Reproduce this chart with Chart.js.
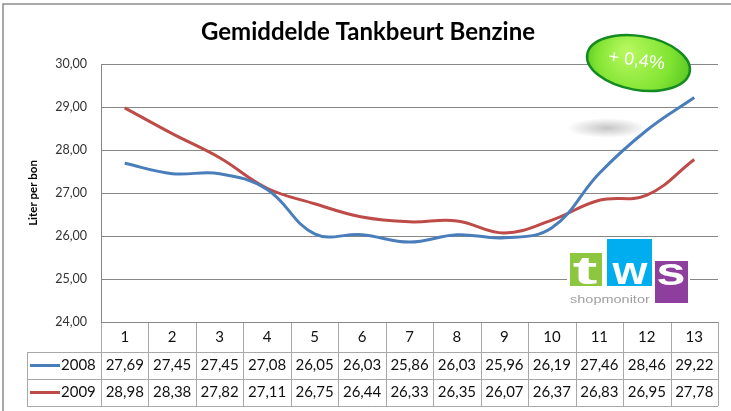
<!DOCTYPE html>
<html>
<head>
<meta charset="utf-8">
<script src="https://cdn.jsdelivr.net/npm/chart.js@4"></script>
<style>
  html, body { margin: 0; padding: 0; background: #fff; }
  #wrap { width: 731px; height: 411px; }
</style>
</head>
<body>
<div id="wrap"><canvas id="myChart" width="731" height="411"></canvas></div>
<script>
// chart data
const weeks = ["1", "2", "3", "4", "5", "6", "7", "8", "9", "10", "11", "12", "13"];
const values2008 = [27.69, 27.45, 27.45, 27.08, 26.05, 26.03, 25.86, 26.03, 25.96, 26.19, 27.46, 28.46, 29.22];
const values2009 = [28.98, 28.38, 27.82, 27.11, 26.75, 26.44, 26.33, 26.35, 26.07, 26.37, 26.83, 26.95, 27.78];
const yMin = 24;
const yMax = 30;
const yStep = 1;
const chartTitle = "Gemiddelde Tankbeurt Benzine";
const yTitle = "Liter per bon";
const badgeText = "+ 0,4%";

const blue = "#4a7ebb";
const red = "#be4b48";
const gridColor = "#878787";
const tableLine = "#a8a8a8";
const font = "Lato, 'Open Sans', sans-serif";

function fmt(v) {
  return v.toFixed(2).replace(".", ",");
}

// white background, frame and title
const backgroundPlugin = {
  id: "background",
  beforeDraw(chart) {
    const c = chart.ctx;
    c.save();
    c.fillStyle = "#fff";
    c.fillRect(0, 0, chart.width, chart.height);
    c.strokeStyle = "#8c8c8c";
    c.lineWidth = 1.5;
    c.beginPath();
    c.moveTo(3, chart.height);
    c.lineTo(3, 4);
    c.lineTo(chart.width, 4);
    c.stroke();
    c.fillStyle = "#000";
    c.font = "bold 24px " + font;
    c.textAlign = "center";
    c.textBaseline = "alphabetic";
    c.fillText(chartTitle, 368, 40);
    c.restore();
  },
};

// draw one letter stretched sideways (logo letters are wide)
function wideLetter(c, ch, cx, base, sx) {
  c.save();
  c.translate(cx, base);
  c.scale(sx, 1);
  c.fillText(ch, 0, 0);
  c.restore();
}

// logo sits on top of the grid but under the lines
const logoPlugin = {
  id: "logo",
  beforeDatasetsDraw(chart) {
    const c = chart.ctx;
    c.save();
    // shadow of the badge
    const g = c.createRadialGradient(0, 0, 0, 0, 0, 1);
    g.addColorStop(0, "rgba(150,150,150,0.55)");
    g.addColorStop(1, "rgba(150,150,150,0)");
    c.translate(607, 128);
    c.scale(40, 10);
    c.fillStyle = g;
    c.beginPath();
    c.arc(0, 0, 1, 0, Math.PI * 2);
    c.fill();
    c.restore();

    c.save();
    c.fillStyle = "#fff";
    c.fillRect(567, 238, 123, 67);
    c.fillStyle = "#8dc63f";
    c.fillRect(570, 253, 32, 33);
    c.fillStyle = "#00aeef";
    c.fillRect(607, 239, 45, 47);
    c.fillStyle = "#8e3f9e";
    c.fillRect(655, 261, 33, 42);
    c.fillStyle = "#fff";
    c.font = "bold 39px Arial, sans-serif";
    c.textAlign = "center";
    c.textBaseline = "alphabetic";
    wideLetter(c, "t", 585, 284, 1.9);
    wideLetter(c, "w", 630, 284, 1.15);
    wideLetter(c, "s", 671, 285, 1.35);
    c.fillStyle = "#a0a0a0";
    c.font = "10px Arial, sans-serif";
    c.textAlign = "left";
    c.save();
    c.translate(570, 303);
    c.scale(1.45, 1);
    c.fillText("shopmonitor", 0, 0);
    c.restore();
    c.restore();
  },
};

// data table under the plot, columns follow the x scale
const tablePlugin = {
  id: "dataTable",
  afterDraw(chart) {
    const c = chart.ctx;
    const x = chart.scales.x;
    const area = chart.chartArea;
    const top = area.bottom;
    const rowY = [top, top + 30, top + 57, top + 84];
    const legendLeft = 27;

    const edges = [area.left];
    for (let i = 0; i < weeks.length - 1; i++) {
      edges.push((x.getPixelForValue(i) + x.getPixelForValue(i + 1)) / 2);
    }
    edges.push(area.right);

    c.save();
    c.strokeStyle = tableLine;
    c.lineWidth = 1;
    c.beginPath();
    edges.forEach((ex) => {
      c.moveTo(Math.round(ex) + 0.5, rowY[0]);
      c.lineTo(Math.round(ex) + 0.5, rowY[3]);
    });
    for (let r = 1; r < rowY.length; r++) {
      c.moveTo(legendLeft, rowY[r] + 0.5);
      c.lineTo(area.right, rowY[r] + 0.5);
    }
    c.moveTo(legendLeft + 0.5, rowY[1]);
    c.lineTo(legendLeft + 0.5, rowY[3]);
    c.stroke();

    // x axis line
    c.strokeStyle = gridColor;
    c.beginPath();
    c.moveTo(area.left, top + 0.5);
    c.lineTo(area.right, top + 0.5);
    c.stroke();

    c.fillStyle = "#111";
    c.font = "15px " + font;
    c.textAlign = "center";
    c.textBaseline = "middle";
    weeks.forEach((w, i) => {
      c.fillText(w, x.getPixelForValue(i), (rowY[0] + rowY[1]) / 2);
    });

    const rows = [
      { label: "2008", values: values2008, color: blue },
      { label: "2009", values: values2009, color: red },
    ];
    rows.forEach((row, r) => {
      const cy = (rowY[r + 1] + rowY[r + 2]) / 2;
      c.strokeStyle = row.color;
      c.lineWidth = 3;
      c.beginPath();
      c.moveTo(30, cy);
      c.lineTo(60, cy);
      c.stroke();
      c.textAlign = "left";
      c.fillText(row.label, 61, cy);
      c.textAlign = "center";
      row.values.forEach((v, i) => {
        c.fillText(fmt(v), x.getPixelForValue(i), cy);
      });
    });
    c.restore();
  },
};

// green percentage badge
const badgePlugin = {
  id: "badge",
  afterDraw(chart) {
    const c = chart.ctx;
    c.save();
    c.translate(638.5, 63);
    c.rotate(0.17);
    const g = c.createRadialGradient(-14, -10, 4, 0, 0, 58);
    g.addColorStop(0, "#b4f75c");
    g.addColorStop(0.6, "#82e433");
    g.addColorStop(1, "#4fc21f");
    c.beginPath();
    c.ellipse(0, 0, 52, 27, 0, 0, Math.PI * 2);
    c.fillStyle = g;
    c.fill();
    c.lineWidth = 2.5;
    c.strokeStyle = "#148a22";
    c.stroke();
    c.fillStyle = "#fff";
    c.font = "18px Arial, sans-serif";
    c.textAlign = "center";
    c.textBaseline = "middle";
    c.rotate(-0.04);
    c.fillText(badgeText, -2, -2);
    c.restore();
  },
};

const ctx = document.getElementById("myChart").getContext("2d");

const chart = new Chart(ctx, {
  type: "line",
  data: {
    labels: weeks,
    datasets: [
      {
        label: "2008",
        data: values2008,
        borderColor: blue,
        borderWidth: 3,
        tension: 0.4,
        pointRadius: 0,
        fill: false,
      },
      {
        label: "2009",
        data: values2009,
        borderColor: red,
        borderWidth: 3,
        tension: 0.4,
        pointRadius: 0,
        fill: false,
      },
    ],
  },
  options: {
    responsive: false,
    animation: false,
    layout: {
      padding: { left: 0, top: 64, right: 13, bottom: 89 },
    },
    plugins: {
      legend: { display: false },
      title: { display: false },
      tooltip: { enabled: false },
    },
    scales: {
      x: {
        display: false,
        offset: true,
      },
      y: {
        min: yMin,
        max: yMax,
        afterFit(scale) {
          scale.width = 101;
        },
        border: { display: true, color: gridColor, width: 1 },
        grid: { color: gridColor, drawTicks: false, lineWidth: 1 },
        ticks: {
          stepSize: yStep,
          padding: 14,
          color: "#333",
          font: { family: font, size: 12.5 },
          callback: (v) => fmt(v),
        },
        title: {
          display: true,
          text: yTitle,
          color: "#000",
          font: { family: font, size: 11.5, weight: "bold" },
          padding: { top: 26, bottom: 0 },
        },
      },
    },
  },
  plugins: [backgroundPlugin, logoPlugin, tablePlugin, badgePlugin],
});
</script>
</body>
</html>
